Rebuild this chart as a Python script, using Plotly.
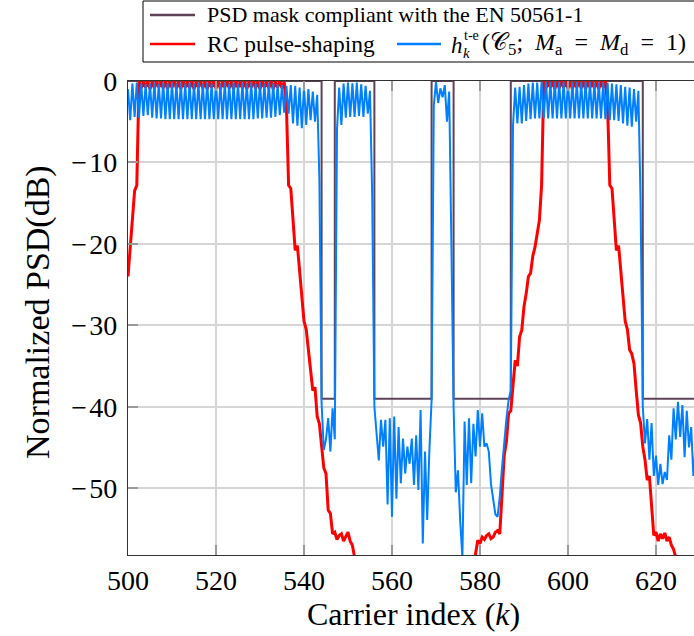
import plotly.graph_objects as go

# ---------------- data ----------------
# PSD mask: breakpoints (carrier index) and level from each breakpoint on (dB)
mask_k = [500, 544, 547, 556, 569, 574, 587, 617, 629]
mask_db = [0, -39, 0, -39, 0, -39, 0, -39, -39]

# h^{t-e} curve, sampled every half carrier; each segment = (first k, values)
blue_band1 = [-1.0, -4.8, -0.3, -4.4, -0.2, -4.5, -0.3, -4.3, -0.4, -4.2,
              -0.3, -4.5, -0.2, -4.6, -0.3, -4.6, -0.2, -4.7, -0.3, -4.7,
              -0.2, -4.7, -0.3, -4.7, -0.2, -4.7, -0.3, -4.7, -0.2, -4.7,
              -0.3, -4.7, -0.2, -4.7, -0.3, -4.7, -0.2, -4.7, -0.3, -4.7,
              -0.2, -4.7, -0.3, -4.7, -0.2, -4.7, -0.3, -4.7, -0.2, -4.7,
              -0.3, -4.7, -0.2, -4.7, -0.3, -4.7, -0.2, -4.7, -0.3, -4.6,
              -0.2, -4.6, -0.3, -4.5, -0.2, -4.5, -0.3, -4.4, -0.4, -4.2,
              -0.5, -3.9, -0.6, -4.0, -0.5, -5.2, -0.6, -5.5, -0.8, -5.8,
              -0.7, -5.4, -1.0, -4.8, -1.3, -5.0, -1.7, -12.0]
blue_gap1 = [-39.5, -45.3, -44.0, -41.4, -45.5, -40.2, -44.0]
blue_band2 = [-6.0, -0.8, -5.4, -0.3, -4.5, -0.2, -4.4, -0.3, -4.4, -0.2,
              -4.3, -0.4, -4.4, -0.6, -4.0, -1.2, -14.0]
blue_gap2 = [-40.0, -43.1, -46.6, -41.6, -44.9, -41.6, -52.0, -41.4, -53.5,
             -41.2, -51.3, -42.5, -49.4, -43.9, -48.2, -44.9, -47.0, -43.9,
             -49.6, -43.5, -50.2, -40.4, -56.8, -45.5, -53.9, -45.3, -39.2]
blue_band3 = [-3.0, -0.1, -2.7, -0.9, -2.0, -0.5, -5.0, -1.3, -20.0]
blue_gap3 = [-40.0, -50.5, -47.8, -54.0, -58.5, -41.8, -49.6, -41.4, -49.4,
             -42.1, -46.1, -40.4, -44.9, -40.8, -44.9, -44.5, -45.5, -49.5,
             -51.5, -53.2, -53.5, -51.0, -47.5, -44.3, -41.5, -39.2, -38.0]
blue_band4 = [-5.5, -0.8, -5.2, -0.7, -5.2, -0.5, -4.9, -0.3, -4.7, -0.2,
              -4.6, -0.2, -4.6, -0.1, -4.6, -0.1, -4.6, -0.1, -4.6, -0.1,
              -4.6, -0.1, -4.6, -0.1, -4.6, -0.1, -4.6, -0.1, -4.6, -0.1,
              -4.6, -0.1, -4.6, -0.1, -4.6, -0.1, -4.6, -0.2, -4.6, -0.2,
              -4.6, -0.2, -4.7, -0.2, -4.8, -0.3, -4.8, -0.4, -4.9, -0.5,
              -5.2, -0.7, -5.5, -0.8, -5.6, -1.0, -5.0, -1.2, -15.0]
blue_gap4 = [-40.0, -44.5, -41.5, -46.5, -42.0, -48.5, -46.0, -49.6, -47.0,
             -49.5, -48.0, -49.0, -43.5, -46.5, -40.2, -44.0, -39.4, -43.7,
             -39.8, -46.2, -40.5, -45.0, -42.5, -48.5, -45.0]
blue_segments = [(500.0, blue_band1), (544.0, blue_gap1), (547.5, blue_band2),
                 (556.0, blue_gap2), (569.5, blue_band3), (574.0, blue_gap3),
                 (587.5, blue_band4), (617.0, blue_gap4)]

# RC pulse-shaping curve (half-carrier samples); it falls below the axis between segments
red_edge1 = [-24.0, -20.5, -17.5, -13.5, -12.8]
red_band1 = [0.0, -0.9, -0.1, -0.8, 0.0, -1.0, -0.1, -0.9, 0.0, -0.8,
             -0.1, -0.9, 0.0, -1.0, -0.1, -0.8, 0.0, -0.9, -0.1, -1.0,
             0.0, -0.8, -0.1, -0.9, 0.0, -1.0, -0.1, -0.8, 0.0, -0.9,
             -0.1, -1.0, 0.0, -0.8, -0.1, -0.9, 0.0, -1.0, -0.1, -0.8,
             0.0, -0.9, -0.1, -1.0, 0.0, -0.8, -0.1, -0.9, 0.0, -1.0,
             -0.1, -0.8, 0.0, -0.9, -0.1, -1.0, 0.0, -0.8, -0.1, -0.9,
             0.0, -1.0, -0.1, -0.8, 0.0, -0.9, -0.1]
red_drop1 = [-3.0, -12.8, -13.2, -16.7, -20.8, -20.2, -23.0, -26.0, -29.5,
             -30.5, -33.0, -34.7, -38.0, -37.6, -41.2, -42.1, -45.0, -47.5,
             -48.2, -52.7, -53.1, -55.6, -55.4, -56.3, -55.8, -55.6, -56.5,
             -56.0, -55.4, -56.5, -57.0, -58.5, -62.0]
red_rise2 = [-62.0, -58.0, -56.4, -56.8, -56.0, -56.3, -55.8, -55.6, -56.2,
             -56.0, -55.4, -55.2, -55.6, -51.5, -46.0, -44.3, -40.8, -40.5,
             -37.6, -34.3, -35.0, -31.4, -30.6, -27.7, -26.1, -24.0, -23.6,
             -21.5, -20.4, -18.5, -17.1, -12.8]
red_band4 = [0.0, -0.9, -0.1, -0.8, 0.0, -1.0, -0.1, -0.9, 0.0, -0.8,
             -0.1, -0.9, 0.0, -1.0, -0.1, -0.8, 0.0, -0.9, -0.1, -1.0,
             0.0, -0.8, -0.1, -0.9, 0.0, -1.0, -0.1, -0.8, 0.0]
red_drop4 = [-3.0, -12.8, -13.2, -16.7, -20.8, -20.2, -23.0, -26.0, -29.5,
             -30.5, -33.0, -33.5, -34.7, -38.0, -41.0, -42.0, -44.9, -46.5,
             -49.0, -48.5, -52.7, -55.8, -55.4, -56.5, -55.6, -56.2, -55.5,
             -56.5, -56.0, -57.0, -57.5, -58.5, -62.0]
red_segments = [(500.0, red_edge1), (502.5, red_band1), (536.0, red_drop1),
                (578.5, red_rise2), (594.5, red_band4), (609.0, red_drop4)]

x_ticks = [500, 520, 540, 560, 580, 600, 620]
y_ticks = [0, -10, -20, -30, -40, -50]
y_ticktext = ["0", "\u2212\u200a10", "\u2212\u200a20", "\u2212\u200a30",
              "\u2212\u200a40", "\u2212\u200a50"]
x_range = [500, 628.64]
y_range = [-58.2, 0]

STEP = 0.5


def build(segments):
    xs, ys = [], []
    prev_end = None
    for start, vals in segments:
        if prev_end is not None and abs(start - prev_end - STEP) > 1e-9:
            xs.append(None)
            ys.append(None)
        for i, v in enumerate(vals):
            xs.append(start + STEP * i)
            ys.append(v)
        prev_end = start + STEP * (len(vals) - 1)
    return xs, ys


bx, by = build(blue_segments)
rx, ry = build(red_segments)

MASK_C = "#5e4356"
RED_C = "#ff0000"
BLUE_C = "#0080ff"
FONT = "Liberation Serif"

fig = go.Figure()
fig.add_trace(go.Scatter(x=mask_k, y=mask_db, mode="lines", line_shape="hv",
                         line=dict(color=MASK_C, width=2), showlegend=False,
                         name="PSD mask compliant with the EN 50561-1"))
fig.add_trace(go.Scatter(x=rx, y=ry, mode="lines", line=dict(color=RED_C, width=3),
                         showlegend=False, name="RC pulse-shaping"))
fig.add_trace(go.Scatter(x=bx, y=by, mode="lines", line=dict(color=BLUE_C, width=2),
                         showlegend=False, name="h t-e"))

L, T, B, W, H = 128, 81, 555, 694, 636
PW, PH = W - L, B - T


def px(xp):
    return (xp - L) / PW


def py(yp):
    return (B - yp) / PH


shapes = []
annotations = []
# legend box
shapes.append(dict(type="rect", xref="paper", yref="paper", x0=px(143), x1=px(702),
                   y0=py(62), y1=py(1), line=dict(color="#000000", width=1),
                   fillcolor="white", layer="above"))
for (x0, x1, yy, c) in [(150, 195, 15, MASK_C), (150, 195, 44, RED_C), (397, 441, 44, BLUE_C)]:
    shapes.append(dict(type="line", xref="paper", yref="paper", x0=px(x0), x1=px(x1),
                       y0=py(yy), y1=py(yy), line=dict(color=c, width=2.5)))


def txt(x, y, s, size=23, anchor="left"):
    annotations.append(dict(xref="paper", yref="paper", x=px(x), y=py(y), text=s,
                            showarrow=False, xanchor=anchor, yanchor="middle",
                            font=dict(family=FONT, size=size, color="black")))


SP = "\u2005"
txt(205, 15, "PSD mask compliant with the EN 50561-1", size=22)
txt(205, 44, "RC pulse-shaping", size=23.5)
txt(449, 45, "<i>h</i>")
txt(462, 36, "t-e", size=14)
txt(461, 53, "<i>k</i>", size=15)
txt(480, 44, "(𝒞<sub>5</sub>;" + SP + " <i>M</i><sub>a</sub> " + SP + "=" + SP
    + " <i>M</i><sub>d</sub> " + SP + "=" + SP + " 1)", size=24)

# axis titles
annotations.append(dict(xref="paper", yref="paper", x=px(413), y=py(614),
                        text="Carrier index (<i>k</i>)", showarrow=False,
                        xanchor="center", yanchor="middle",
                        font=dict(family=FONT, size=32, color="black")))
annotations.append(dict(xref="paper", yref="paper", x=px(38), y=py(312),
                        text="Normalized PSD(dB)", showarrow=False, textangle=-90,
                        xanchor="center", yanchor="middle",
                        font=dict(family=FONT, size=34, color="black")))

fig.update_layout(
    width=W, height=H,
    margin=dict(l=L, r=W - 694, t=T, b=H - B, pad=0, autoexpand=False),
    paper_bgcolor="white", plot_bgcolor="white",
    font=dict(family=FONT, size=28, color="black"),
    shapes=shapes, annotations=annotations,
    showlegend=False,
)
fig.update_xaxes(range=x_range, tickvals=x_ticks, ticks="inside", ticklen=10,
                 tickcolor="#9a9a9a", tickwidth=1.5, automargin=False,
                 showgrid=True, gridcolor="#d6d6d6", gridwidth=1.5,
                 showline=True, linecolor="#333333", linewidth=1.2, mirror="ticks",
                 zeroline=False, tickfont=dict(family=FONT, size=28))
fig.update_yaxes(range=y_range, tickvals=y_ticks, ticktext=y_ticktext, ticks="inside",
                 ticklen=10, tickcolor="#9a9a9a", tickwidth=1.5, automargin=False,
                 ticklabelstandoff=4,
                 showgrid=True, gridcolor="#d6d6d6", gridwidth=1.5,
                 showline=True, linecolor="#333333", linewidth=1.2, mirror=False,
                 zeroline=False, tickfont=dict(family=FONT, size=28))

fig.write_html("out.html", config={"displayModeBar": False},
               post_script="document.body.style.margin='0px';"
                           "document.body.style.overflow='hidden';")
